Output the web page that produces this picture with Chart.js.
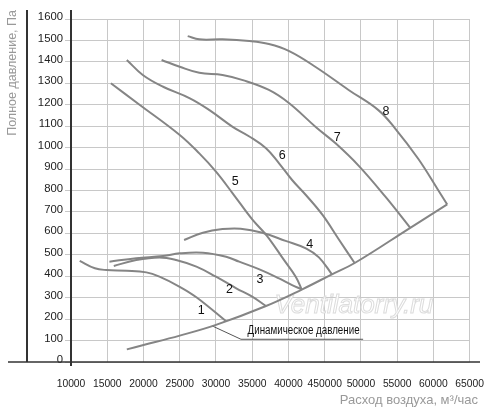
<!DOCTYPE html>
<html>
<head>
<meta charset="utf-8">
<script src="https://cdn.jsdelivr.net/npm/chart.js@4.4.1/dist/chart.umd.min.js"></script>
<style>
  body { margin: 0; background: #fff; }
  canvas { display: block; }
</style>
</head>
<body>
<canvas id="fanChart" width="500" height="415"></canvas>
<script>
// tick labels as printed (the "450000" misprint is in the original)
var xTickLabels = ["10000", "15000", "20000", "25000", "30000", "35000", "40000", "450000", "50000", "55000", "60000", "65000"];
var yTickLabels = ["0", "100", "200", "300", "400", "500", "600", "700", "800", "900", "1000", "1100", "1200", "1300", "1400", "1500", "1600"];

// dynamic pressure
var flowDyn = [17700, 20000, 25000, 30000, 36900, 41900, 46000, 49200, 56800, 61900];
var pressDyn = [59, 79, 123, 173, 261, 339, 409, 463, 626, 735];

// fan curves 1..8
var flow1 = [11200, 13300, 14900, 17700, 20400, 22200, 25000, 27300, 31400];
var press1 = [472, 437, 429, 426, 418, 398, 351, 302, 190];
var flow2 = [15900, 19000, 22200, 24500, 27300, 30000, 32800, 35000, 36900];
var press2 = [448, 476, 488, 476, 445, 398, 344, 305, 261];
var flow3 = [15300, 19000, 22700, 25000, 28200, 31400, 33200, 36000, 38700, 40500, 41800];
var press3 = [468, 484, 494, 507, 510, 491, 468, 432, 390, 359, 339];
var flow4 = [25600, 28200, 30900, 33400, 36400, 39600, 42400, 44200, 46000];
var press4 = [569, 603, 620, 622, 603, 565, 530, 488, 409];
var flow5 = [15500, 19500, 25000, 27700, 30000, 32300, 35000, 37000, 39400, 41000, 41800];
var press5 = [1300, 1199, 1059, 973, 888, 787, 665, 590, 475, 398, 340];
var flow6 = [17700, 19900, 22700, 26400, 29100, 32300, 34600, 36900, 38700, 40500, 42400, 44700, 47000, 49100];
var press6 = [1409, 1339, 1284, 1230, 1175, 1097, 1052, 997, 927, 849, 779, 686, 569, 463];
var flow7 = [22500, 25000, 27700, 30900, 33700, 37300, 40100, 43800, 46500, 49700, 53400, 56800];
var press7 = [1409, 1377, 1349, 1339, 1315, 1269, 1207, 1095, 1020, 915, 770, 626];
var flow8 = [26100, 27700, 30900, 34600, 37300, 40100, 43800, 48300, 52400, 54700, 57900, 60600, 61900];
var press8 = [1520, 1505, 1505, 1497, 1483, 1450, 1375, 1269, 1175, 1090, 948, 805, 735];

// leader line for the "Динамическое давление" caption
var flowLeader = [29500, 33450, 50300];
var pressLeader = [168, 106, 106];

// curve numbers and where they sit
var curveNames = ["1", "2", "3", "4", "5", "6", "7", "8"];
var nameFlow = [27960, 31850, 36070, 42930, 32670, 39130, 46730, 53460];
var namePress = [238, 336, 384, 549, 844, 965, 1048, 1167];

var dynCaption = "Динамическое давление";
var dynCaptionFlow = 34360;
var dynCaptionPress = 146;

function pts(xs, ys) {
  return xs.map(function (x, i) { return { x: x, y: ys[i] }; });
}

function curve(xs, ys) {
  return {
    data: pts(xs, ys),
    borderColor: "#858585",
    borderWidth: 2,
    pointRadius: 0,
    fill: false,
    tension: 0.4,
  };
}

var plain = "'Liberation Sans', Arial, sans-serif";

// squeeze text horizontally so it reads like the condensed face of the original
function narrowText(ctx, text, x, y, width) {
  var w = ctx.measureText(text).width;
  ctx.save();
  ctx.translate(x, y);
  ctx.scale(width / w, 1);
  ctx.fillText(text, 0, 0);
  ctx.restore();
}

var extras = {
  id: "extras",
  beforeDatasetsDraw: function (chart) {
    var ctx = chart.ctx;
    var xs = chart.scales.x, ys = chart.scales.y;
    ctx.save();
    ctx.font = "italic 26px " + plain;
    ctx.textAlign = "center";
    ctx.textBaseline = "middle";
    var wx = xs.getPixelForValue(49020), wy = ys.getPixelForValue(261);
    ctx.fillStyle = "rgba(255,255,255,0.9)";
    ctx.fillText("Ventilatorry.ru", wx, wy);
    ctx.strokeStyle = "#dcdcdc";
    ctx.lineWidth = 1;
    ctx.strokeText("Ventilatorry.ru", wx, wy);
    ctx.restore();
  },
  afterDatasetsDraw: function (chart) {
    var ctx = chart.ctx;
    var xs = chart.scales.x, ys = chart.scales.y;
    var area = chart.chartArea;
    ctx.save();
    // axis frame lines
    ctx.strokeStyle = "#333";
    ctx.lineWidth = 2;
    ctx.beginPath();
    ctx.moveTo(area.left, 10);
    ctx.lineTo(area.left, area.bottom + 4);
    ctx.moveTo(27, 10);
    ctx.lineTo(27, area.bottom);
    ctx.stroke();
    ctx.lineWidth = 1.5;
    ctx.beginPath();
    ctx.moveTo(8, area.bottom);
    ctx.lineTo(480, area.bottom);
    ctx.stroke();

    // curve numbers
    ctx.fillStyle = "#111";
    ctx.font = "12.5px " + plain;
    ctx.textAlign = "center";
    ctx.textBaseline = "middle";
    curveNames.forEach(function (n, i) {
      ctx.fillText(n, xs.getPixelForValue(nameFlow[i]), ys.getPixelForValue(namePress[i]));
    });

    ctx.font = "12.5px " + plain;
    ctx.textAlign = "left";
    narrowText(ctx, dynCaption, xs.getPixelForValue(dynCaptionFlow), ys.getPixelForValue(dynCaptionPress), 112);

    // axis titles
    ctx.fillStyle = "#999";
    ctx.font = "13px " + plain;
    ctx.textAlign = "right";
    ctx.fillText("Расход воздуха, м³/час", 478, 400);
    ctx.font = "12.5px " + plain;
    ctx.translate(13, 10);
    ctx.rotate(-Math.PI / 2);
    ctx.fillText("Полное давление, Па", 0, 0);
    ctx.restore();
  },
};

var datasets = [
  curve(flowDyn, pressDyn),
  curve(flow1, press1),
  curve(flow2, press2),
  curve(flow3, press3),
  curve(flow4, press4),
  curve(flow5, press5),
  curve(flow6, press6),
  curve(flow7, press7),
  curve(flow8, press8),
  {
    data: pts(flowLeader, pressLeader),
    borderColor: "#555",
    borderWidth: 1,
    pointRadius: 0,
    fill: false,
    tension: 0,
  },
];

var ctx = document.getElementById("fanChart").getContext("2d");
var fanChart = new Chart(ctx, {
  type: "line",
  data: { datasets: datasets },
  plugins: [extras],
  options: {
    responsive: false,
    animation: false,
    layout: { padding: { left: 0, right: 28.6, top: 19, bottom: 0 } },
    plugins: { legend: { display: false }, tooltip: { enabled: false } },
    scales: {
      x: {
        type: "linear",
        min: 10000,
        max: 65000,
        afterFit: function (s) { s.height = 53; },
        border: { display: false },
        grid: { color: "#c8c8c8", lineWidth: 1, drawTicks: false },
        ticks: {
          stepSize: 5000,
          autoSkip: false,
          maxRotation: 0,
          padding: 16,
          color: "#222",
          font: { family: plain, size: 10.3 },
          callback: function (v, i) { return xTickLabels[i]; },
        },
      },
      y: {
        min: 0,
        max: 1600,
        afterFit: function (s) { s.width = 71; },
        border: { display: false },
        grid: { color: "#c8c8c8", lineWidth: 1, tickLength: 6 },
        ticks: {
          stepSize: 100,
          autoSkip: false,
          padding: 2,
          labelOffset: -2,
          color: "#222",
          font: { family: plain, size: 11.3 },
          callback: function (v, i) { return yTickLabels[i]; },
        },
      },
    },
  },
});
</script>
</body>
</html>
